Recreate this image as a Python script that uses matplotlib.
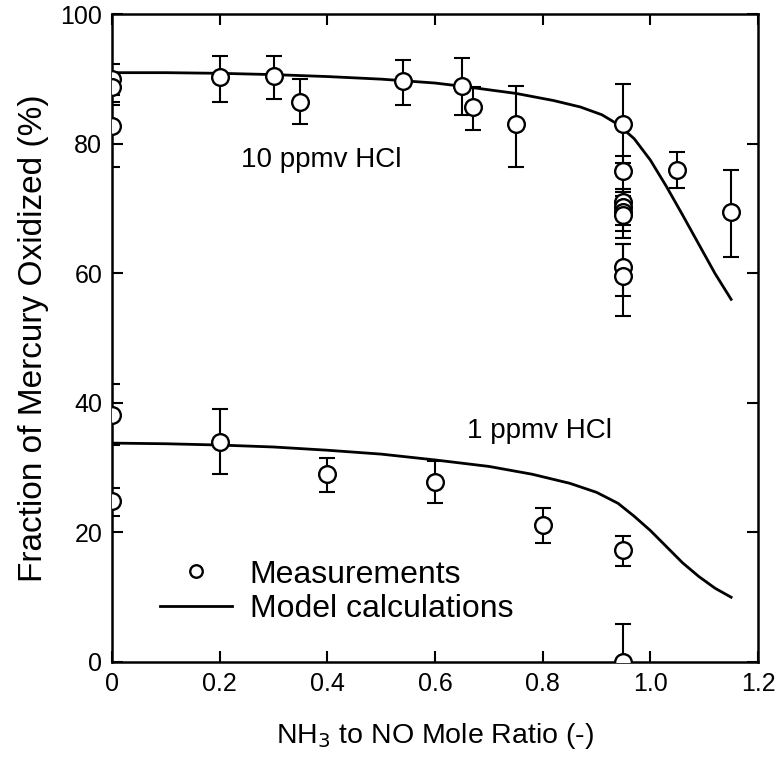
import matplotlib
matplotlib.use("Agg")
import matplotlib.pyplot as plt

plt.rcParams['font.family'] = ['Liberation Sans', 'DejaVu Sans']

# 10 ppmv HCl measurements: x, value, lower error end, upper error end
x10 = [0, 0, 0, 0.2, 0.3, 0.35, 0.54, 0.65, 0.67, 0.75,
       0.95, 0.95, 0.95, 0.95, 0.95, 0.95, 0.95, 0.95, 1.05, 1.15]
y10 = [90.0, 88.8, 82.7, 90.3, 90.5, 86.5, 89.7, 89.0, 85.7, 83.0,
       83.0, 75.8, 71.0, 70.3, 69.5, 69.0, 61.0, 59.6, 76.0, 69.5]
lo10 = [87.5, 86.5, 76.5, 86.5, 87.0, 83.0, 86.0, 84.5, 82.2, 76.5,
        77.0, 73.0, 68.5, 67.5, 66.5, 65.5, 56.5, 53.5, 73.2, 62.6]
hi10 = [92.3, 91.0, 86.0, 93.5, 93.5, 90.0, 93.0, 93.3, 88.8, 89.0,
        89.3, 78.2, 73.0, 72.5, 72.0, 71.5, 64.5, 64.5, 78.8, 75.9]

# 1 ppmv HCl measurements
x1 = [0, 0, 0.2, 0.4, 0.6, 0.8, 0.95, 0.95]
y1 = [38.2, 24.8, 34.0, 29.0, 27.8, 21.2, 17.3, 0.0]
lo1 = [33.5, 22.5, 29.0, 26.2, 24.6, 18.3, 14.9, 0.0]
hi1 = [43.0, 26.8, 39.0, 31.5, 31.0, 23.8, 19.5, 5.8]

# model curves
mx10 = [0, 0.1, 0.2, 0.3, 0.4, 0.5, 0.6, 0.66, 0.75, 0.82, 0.87, 0.91,
        0.94, 0.97, 1.0, 1.03, 1.06, 1.09, 1.12, 1.15]
my10 = [91.0, 91.0, 90.9, 90.7, 90.4, 90.0, 89.4, 88.8, 87.8, 86.7, 85.7, 84.5,
        83.0, 80.8, 77.5, 73.4, 69.0, 64.5, 60.0, 56.0]
mx1 = [0, 0.1, 0.2, 0.3, 0.4, 0.5, 0.6, 0.7, 0.78, 0.85, 0.9, 0.94,
       0.97, 1.0, 1.03, 1.06, 1.09, 1.12, 1.15]
my1 = [33.8, 33.7, 33.5, 33.2, 32.7, 32.1, 31.2, 30.2, 29.0, 27.6, 26.2, 24.5,
       22.5, 20.3, 17.8, 15.3, 13.2, 11.4, 10.0]

xticks = [0, 0.2, 0.4, 0.6, 0.8, 1.0, 1.2]
xticklabels = ['0', '0.2', '0.4', '0.6', '0.8', '1.0', '1.2']
yticks = [0, 20, 40, 60, 80, 100]

fig = plt.figure(figsize=(7.81, 7.57), dpi=100)
ax = fig.add_axes([0.1434, 0.1255, 0.8272, 0.8555])

lw = 1.5
for xs, ys, lo, hi in [(x10, y10, lo10, hi10), (x1, y1, lo1, hi1)]:
    err = [[y - l for y, l in zip(ys, lo)], [h - y for y, h in zip(ys, hi)]]
    ax.errorbar(xs, ys, yerr=err, fmt='none', ecolor='black', elinewidth=lw,
                capsize=5.5, capthick=lw, zorder=2)

ax.plot(mx10, my10, color='black', lw=2, zorder=3)
ax.plot(mx1, my1, color='black', lw=2, zorder=3, label='Model calculations')
ax.plot(x10, y10, 'o', ms=12, mfc='white', mec='black', mew=1.7, zorder=4)
ax.plot(x1, y1, 'o', ms=12, mfc='white', mec='black', mew=1.7, zorder=4,
        label='Measurements')

ax.text(0.24, 77.5, '10 ppmv HCl', fontsize=20, ha='left', va='center')
ax.text(0.66, 35.7, '1 ppmv HCl', fontsize=20, ha='left', va='center')

ax.set_xlim(0, 1.2)
ax.set_ylim(0, 100)
ax.set_xticks(xticks)
ax.set_xticklabels(xticklabels)
ax.set_yticks(yticks)
ax.tick_params(direction='in', length=8, width=1.5, labelsize=18, pad=7,
               top=True, right=True)
for s in ax.spines.values():
    s.set_linewidth(1.8)

ax.set_xlabel('NH$_3$ to NO Mole Ratio (-)', fontsize=20.5, labelpad=18)
ax.set_ylabel('Fraction of Mercury Oxidized (%)', fontsize=24, labelpad=8)

handles, labels = ax.get_legend_handles_labels()
ax.legend(handles[::-1], labels[::-1], loc='lower left',
          bbox_to_anchor=(0.074, 0.058), frameon=False, fontsize=23,
          borderpad=0, borderaxespad=0, handlelength=2.25, handletextpad=0.56,
          labelspacing=0.15, markerscale=0.75)

fig.savefig('out.png', dpi=100)
